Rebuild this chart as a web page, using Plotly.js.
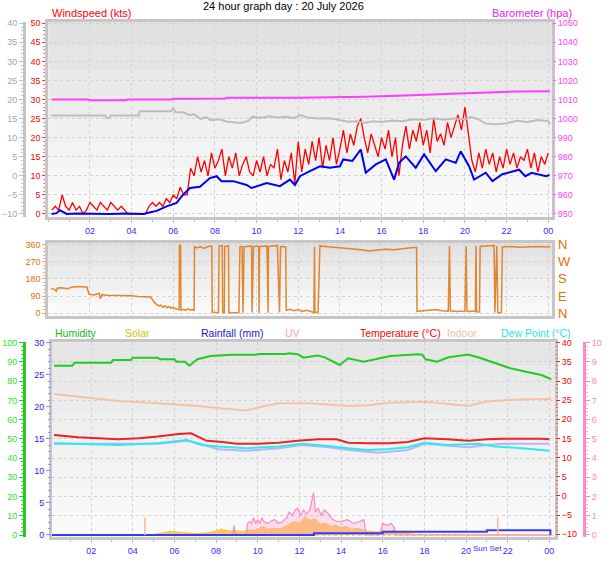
<!DOCTYPE html>
<html><head><meta charset="utf-8">
<script src="https://cdn.plot.ly/plotly-3.0.1.min.js"></script>
<style>html,body{margin:0;padding:0;background:#fff}#chart{width:608px;height:561px}</style>
</head><body><div id="chart"></div>
<script>
// ---------- tick labels ----------
const hourTicks = [2,4,6,8,10,12,14,16,18,20,22,24];
const hourLabels = ['02','04','06','08','10','12','14','16','18','20','22','00'];
const dirTicks = [0,90,180,270,360];
const dirLetters = ['N','E','S','W','N'];
const sunEventTimes = [4.58, 21.52];

// ---------- top panel: wind gust (kts), 10-minute samples from 00:10 ----------
const gustValues = [
 1,2,1,5,2,1,  3,1,2,0,1,3,  2,1,3,2,1,3,  2,1,2,1,0,0,
 0,0,0,0,2,3,  2,3,2,4,3,5,  4,7,5,5,12,10, 15,11,14,10,16,12,
 14,17,10,15,12,16, 10,13,15,11,10,14, 11,15,10,13,12,17, 9,14,11,16,8,19,
 11,17,13,19,14,20, 12,18,14,20,13,17, 22,16,21,18,23,25, 20,16,21,18,15,20,
 17,22,15,20,10,18, 23,17,22,19,24,18, 22,16,25,19,21,18, 24,20,23,26,22,28,
 21,14,11,16,12,17, 13,16,11,15,12,17, 13,16,12,15,14,17, 12,16,11,15,13,16
];
const gustTimes = gustValues.map((v,i)=>(i+1)/6);

// average wind speed (kts)
const avgTimes = [0.16,0.4,0.56,0.75,0.88,1.36,2.0,2.96,3.76,4.56, 4.8,5.2,5.68,6.16,6.4,6.8,7.28,7.76,8.08,8.32,
 8.88,9.52,9.76,10.48,11.12,11.6,11.84,12.08,12.56,13.04, 13.52,14.0,14.16,14.6,15.0,15.24,15.72,16.2,16.6,16.84,
 17.16,17.64,18.04,18.6,19.08,19.56,19.8,20.2,20.44,21.0, 21.32,21.8,22.6,22.9,23.2,23.9,24.06];
const avgValues = [0,0.2,1.0,0.3,0,0.1,0,0,0.1,0, 0.3,0.8,2.0,2.9,4.6,6.8,7.1,9.4,9.9,8.6,
 8.6,7.6,6.8,8.1,7.3,9.0,7.6,9.9,11.2,12.5, 12.1,12.5,14.3,13.9,16.9,10.8,13.0,14.3,9.0,13.4,
 15.1,12.1,15.6,11.2,14.3,13.4,16.4,12.5,9.0,10.8, 8.6,10.4,11.6,9.9,10.8,9.9,10.2];

// barometer (hpa)
const baroTimes = [0.16,1.9,2.0,3.7,3.8,5.9,6.0,6.3,6.6,8.5,8.6,12.0,13.5,15.2,16.8,18.4,20.4,22.5,24.08];
const baroValues = [1010.0,1010.0,1009.6,1009.6,1010.0,1010.0,1010.4,1010.3,1010.4,1010.5,1010.9,1010.9,1011.1,1011.5,1012.0,1012.8,1013.4,1014.2,1014.3];

// grey series (left grey axis)
const greyTimes = [0.16,2.75,2.8,2.95,3.0,4.35,4.4,5.9,6.0,6.1, 6.5,6.8,7.0,7.3,7.6,7.8,8.2,8.6,9.0,9.3,
 9.6,9.8,10.2,10.6,11.0,11.4,11.8,12.1,12.5,13.0, 13.5,14.0,14.4,14.8,15.2,15.6,16.0,16.5,17.0,17.5,
 18.0,18.5,19.0,19.5,20.0,20.3,20.6,21.0,21.5,22.0, 22.5,23.0,23.5,24.0,24.08];
const greyValues = [15.8,15.8,15.1,15.2,15.8,15.8,16.9,16.9,17.8,16.7, 16.6,15.9,16.2,14.9,15.3,14.6,14.8,14.2,14.0,13.9,
 14.4,15.5,15.2,15.6,15.3,15.5,15.1,15.9,15.2,15.0, 15.1,14.6,14.2,14.3,13.9,14.3,14.1,14.5,14.3,14.8,
 14.6,15.1,14.7,15.0,14.8,15.4,14.9,13.7,13.5,13.8, 14.4,14.1,14.6,14.3,13.6];

// ---------- middle panel: wind direction (deg) ----------
const dirTimes = [
 0.13,0.3,0.38,0.45,0.6,0.8,0.95,1.1,1.3,1.6,
 1.85,1.96,2.1,2.2,2.35,2.45,2.5,2.58,2.8,3.2,
 3.6,4.0,4.3,4.6,4.9,5.0,5.1,5.2,5.3,5.4,
 5.5,5.6,5.7,5.8,5.9,6.0,6.1,6.2,6.28,6.3,
 6.35,6.37,6.5,6.6,6.7,6.8,6.9,7.0,7.02,7.15,
 7.3,7.45,7.6,7.75,7.85,7.87,8.0,8.17,8.2,8.35,
 8.37,8.45,8.47,8.65,8.67,8.8,9.15,9.2,9.3,9.35,
 9.4,9.6,9.76,9.78,9.85,10.0,10.1,10.12,10.14,10.5,
 10.55,10.57,11.0,11.1,11.15,11.4,11.42,11.6,11.8,12.0,
 12.2,12.4,12.6,12.75,12.78,12.8,12.95,13.04,13.3,13.6,
 14.0,14.5,15.0,15.4,15.8,16.2,16.6,17.0,17.4,17.68,
 17.7,18.0,18.3,18.6,18.9,19.2,19.26,19.3,19.6,20.0,
 20.06,20.1,20.5,20.53,20.56,20.7,20.73,21.0,21.4,21.44,
 21.53,21.58,21.75,21.8,22.2,22.6,23.0,23.5,24.0,24.1];
const dirValues = [
 129,125,116,132,134,131,128,136,139,139,
 138,99,97,95,102,104,76,97,94,94,
 93,92,88,86,85,72,55,46,38,42,
 30,38,28,35,25,30,22,20,18,358,
 355,15,20,14,22,16,18,15,351,345,
 352,342,350,355,353,5,3,4,355,357,
 5,3,352,355,4,2,3,350,352,2,
 350,352,355,3,350,355,350,2,352,355,
 2,352,357,3,352,350,15,20,12,18,
 8,15,6,3,350,5,2,355,352,348,
 345,340,335,328,334,338,335,342,345,348,
 8,12,15,18,12,10,355,12,8,10,
 355,8,10,355,6,5,352,355,357,3,
 355,2,3,350,352,348,350,352,350,350];

// ---------- bottom panel ----------
const humTimes = [0.22,1.1,1.2,2.95,3.05,3.9,4.0,5.2,5.3,6.0, 6.1,6.5,6.72,7.1,7.74,8.77,9.88,10.07,11.37,11.46,
 11.92,12.2,12.85,13.22,13.93,14.34,15.08,15.64,16.38,17.68, 17.9,18.05,18.61,19.16,20.1,20.65,21.4,22.13,22.88,23.62, 24.09];
const humValues = [88.0,88.0,89.6,89.6,91.0,91.0,92.2,92.2,91.4,91.4, 90.1,90.1,88.0,91.4,93.1,93.8,93.8,94.1,94.1,94.5,
 94.0,92.2,93.4,92.4,88.4,91.9,90.1,91.4,93.1,94.0, 93.8,91.4,90.1,92.4,93.8,92.2,89.4,86.7,84.9,83.2, 81.0];

const indoorTimes = [0.22,1.38,3.3,5.23,7.15,8.3,9.46,10.03,11.0,12.5,13.8,14.34,15.3,16.3,18.05,19.4,20.1,20.9,21.85,23.25,24.09];
const indoorValues = [26.6,25.9,24.8,24.2,23.5,22.8,22.3,23.1,24.2,24.2,23.6,23.5,23.7,24.3,24.6,23.9,23.5,24.6,25.0,25.3,25.3];

const tempTimes = [0.22,1.36,3.3,4.3,5.2,6.2,6.8,7.15,7.55,8.3, 9.0,10.0,11.0,11.9,12.9,13.78,14.34,15.3,16.3,17.2, 18.0,19.1,20.1,21.0,21.8,23.6,24.0];
const tempValues = [15.9,15.3,14.8,15.05,15.5,16.2,16.35,15.5,14.4,14.1, 13.6,13.6,13.9,14.4,14.8,14.8,13.9,13.75,13.75,14.1, 15.05,14.8,14.4,14.8,14.95,14.95,14.8];

const dewTimes = [0.22,3.3,5.2,6.6,7.3,8.1,9.46,11.0,12.1,13.4,14.34,15.3,16.3,17.2,18.0,19.1,20.6,21.4,22.7,24.0];
const dewValues = [13.75,13.3,13.75,14.6,13.3,12.9,12.45,12.9,13.6,13.05,12.45,12.0,12.25,12.7,13.9,13.3,13.6,12.9,12.45,11.8];

const indoorDewTimes = [0.22,5.2,6.6,7.15,8.1,9.46,11.0,12.1,13.4,14.34,15.8,17.2,18.0,19.1,20.1,21.0,21.8,24.0];
const indoorDewValues = [13.6,13.6,14.4,13.75,12.2,11.8,12.45,13.3,12.7,12.0,11.3,12.0,13.6,13.05,12.7,13.3,13.6,13.6];

const rainTimes = [0.12,12.7,16.0,21.0,24.05];
const rainValues = [0,0.25,0.5,0.75,0];

const solarTimes = [0.12,5.0,5.25,5.5,5.75,6.0,6.25,6.5,6.75,7.0,7.25,7.5,7.75,8.0,8.25,8.5,8.75,9.0,9.25,9.5,9.75,
 10.0,10.25,10.5,10.75,11.0,11.25,11.5,11.75,12.0,12.25,12.5,12.75,13.0,13.25,13.5,13.75,14.0,14.25,14.5,14.75,
 15.0,15.25,15.5,15.75,16.0,16.25,16.5,16.75,17.0,17.25,17.5,18,19,20,21,24.05];
const solarValues = [0,3,8,15,18,17,14,12,10,8, 9,10,14,22,30,24,20,22,18,26, 24,30,45,28,35,32,40,55,70,60,
 92,75,85,55,60,45,50,38,42,30, 35,28,20,18,15,22,12,25,8,10, 6,5,3,2,2,0,0];

const uvTimes = [0.12,8.8,8.86,8.92,9.45,9.51,9.6,9.7,9.8,9.9, 10.0,10.1,10.2,10.3,10.45,10.6,10.8,11.0,11.2,11.4,
 11.5,11.65,11.8,11.92,12.05,12.2,12.35,12.5,12.58,12.68, 12.77,12.9,13.05,13.2,13.4,13.6,13.8,14.0,14.3,14.6,
 14.9,15.1,15.2,15.85,16.0,16.2,16.4,16.55,16.65,24.05];
const uvValues = [0,0,0.5,0,0,0.6,0.7,0.6,0.9,0.6, 0.8,0.6,0.9,0.7,0.6,0.7,0.8,0.6,0.7,0.9,
 1.2,1.0,1.3,1.4,1.0,1.3,1.1,1.3,1.8,2.2, 1.2,1.4,1.0,1.3,1.1,0.8,0.7,0.7,0.8,0.6,
 0.7,0.8,0,0,0.6,0.5,0.6,0.4,0,0];

// ---------- styling ----------
const FONT = 'Liberation Sans, Arial, sans-serif';
const BORDER = '#C6C6C6';
const GRID = '#D2D2D2';
const TOPX = [0.0794, 0.9079];
const BOTX = [0.0855, 0.9128];
const TOPY = [0.6132, 0.9613];
const MIDY = [0.4367, 0.5674];
const BOTY = [0.0433, 0.3898];

function bands(xd, yd, g0, g1, n){
  const out=[];
  for(let i=0;i<n;i++){
    const g=Math.round(g0+(g1-g0)*i/(n-1));
    const yt=yd[1]-(yd[1]-yd[0])*i/n, yb=yd[1]-(yd[1]-yd[0])*(i+1)/n;
    out.push({type:'rect',xref:'paper',yref:'paper',x0:xd[0],x1:xd[1],y0:yb,y1:yt,
      fillcolor:`rgb(${g},${g},${g})`,line:{width:0},layer:'below'});
  }
  return out;
}

const traces = [
  {x:greyTimes,y:greyValues,xaxis:'x',yaxis:'y2',mode:'lines',line:{color:'#BDBDBD',width:2}},
  {x:baroTimes,y:baroValues,xaxis:'x',yaxis:'y3',mode:'lines',line:{color:'#FF3CFF',width:2}},
  {x:gustTimes,y:gustValues,xaxis:'x',yaxis:'y',mode:'lines',line:{color:'#FF0000',width:1.3}},
  {x:avgTimes,y:avgValues,xaxis:'x',yaxis:'y',mode:'lines',line:{color:'#0000F0',width:2}},
  {x:dirTimes,y:dirValues,xaxis:'x2',yaxis:'y4',mode:'lines',line:{color:'#E07A1A',width:1.5},opacity:0.9},
  {x:solarTimes,y:solarValues,xaxis:'x3',yaxis:'y5',mode:'lines',fill:'tozeroy',fillcolor:'rgba(255,180,50,0.75)',line:{color:'#F8C850',width:1.2}},
  {x:uvTimes,y:uvValues,xaxis:'x3',yaxis:'y6',mode:'lines',fill:'tozeroy',fillcolor:'rgba(255,160,210,0.3)',line:{color:'#FF88C4',width:1.2}},
  {x:rainTimes,y:rainValues,xaxis:'x3',yaxis:'y7',mode:'lines',line:{color:'#3A3AF0',width:2,shape:'hv'}},
  {x:humTimes,y:humValues,xaxis:'x3',yaxis:'y8',mode:'lines',line:{color:'#22CC22',width:2}},
  {x:indoorDewTimes,y:indoorDewValues,xaxis:'x3',yaxis:'y9',mode:'lines',line:{color:'#B4B4FF',width:2}},
  {x:dewTimes,y:dewValues,xaxis:'x3',yaxis:'y9',mode:'lines',line:{color:'#30EAEA',width:2}},
  {x:indoorTimes,y:indoorValues,xaxis:'x3',yaxis:'y9',mode:'lines',line:{color:'#F6C2A4',width:2}},
  {x:tempTimes,y:tempValues,xaxis:'x3',yaxis:'y9',mode:'lines',line:{color:'#EE2222',width:2}}
];
sunEventTimes.forEach(t=>traces.push({x:[t,t],y:[0,9],xaxis:'x3',yaxis:'y8',mode:'lines',line:{color:'#F5BB9C',width:1.5}}));
traces.forEach(t=>{t.showlegend=false;t.hoverinfo='skip';});

const xBase = {tickvals:hourTicks,ticktext:hourLabels,tickfont:{family:FONT,size:9,color:'#3030FF'},
  showgrid:true,gridcolor:GRID,griddash:'dot',gridwidth:1,showline:true,mirror:true,linecolor:BORDER,linewidth:3,
  ticks:'outside',ticklen:3,tickcolor:'#BBBBBB',zeroline:false,fixedrange:true,
  minor:{tickmode:'linear',tick0:0,dtick:1,ticks:'outside',ticklen:2,tickcolor:'#BBBBBB',showgrid:false}};

const LEG_Y = 0.4064;
const layout = {
  width:608,height:561,margin:{l:0,r:0,t:0,b:0},paper_bgcolor:'#FFFFFF',plot_bgcolor:'rgba(0,0,0,0)',
  font:{family:FONT,size:9},showlegend:false,
  xaxis:Object.assign({},xBase,{domain:TOPX,range:[0,24.18],anchor:'y'}),
  yaxis:{domain:TOPY,anchor:'x',range:[-0.8,50.4],tickmode:'linear',tick0:0,dtick:5,tickfont:{family:FONT,size:9,color:'#FF0000'},
    ticks:'outside',ticklen:3,tickcolor:'#FF3030',showgrid:true,gridcolor:GRID,griddash:'dot',showline:true,mirror:true,
    linecolor:BORDER,linewidth:3,zeroline:false,
    minor:{tickmode:'linear',tick0:0,dtick:1,ticks:'outside',ticklen:2,tickcolor:'#FF8080',showgrid:false}},
  yaxis2:{overlaying:'y',anchor:'free',position:0.0395,side:'left',range:[-10.8,40.4],tickmode:'linear',tick0:0,dtick:5,
    tickfont:{family:FONT,size:9,color:'#A6A6A6'},ticks:'outside',ticklen:4,tickcolor:'#C0C0C0',showgrid:false,
    showline:true,linecolor:'#C4C4C4',linewidth:3,zeroline:false,
    minor:{tickmode:'linear',tick0:0,dtick:1,ticks:'outside',ticklen:2,tickcolor:'#C8C8C8'}},
  yaxis3:{overlaying:'y',anchor:'x',side:'right',range:[948.4,1050.8],tickmode:'linear',tick0:950,dtick:10,
    tickfont:{family:FONT,size:9,color:'#FF40FF'},ticks:'outside',ticklen:3,tickcolor:'#FF60FF',showgrid:false,zeroline:false,
    minor:{tickmode:'linear',tick0:950,dtick:2,ticks:'outside',ticklen:2,tickcolor:'#FF90FF'}},
  xaxis2:Object.assign({},xBase,{domain:TOPX,range:[0,24.18],anchor:'y4',showticklabels:false,ticks:'',minor:{ticks:''}}),
  yaxis4:{domain:MIDY,anchor:'x2',range:[-15.9,372.2],tickvals:dirTicks,tickfont:{family:FONT,size:9,color:'#E07000'},
    ticks:'outside',ticklen:3,tickcolor:'#F0A060',showgrid:true,gridcolor:GRID,griddash:'dot',showline:true,mirror:true,
    linecolor:BORDER,linewidth:3,zeroline:false,
    minor:{tickmode:'linear',tick0:0,dtick:18,ticks:'outside',ticklen:2,tickcolor:'#F0B080',showgrid:false}},
  xaxis3:Object.assign({},xBase,{domain:BOTX,range:[0.12,24.27],anchor:'y5'}),
  yaxis5:{domain:BOTY,anchor:'x3',range:[-8.8,1002],showticklabels:false,ticks:'',showgrid:false,showline:true,mirror:true,
    linecolor:BORDER,linewidth:3,zeroline:false},
  yaxis6:{overlaying:'y5',anchor:'free',position:0.9605,side:'right',range:[-0.09,10.02],tickmode:'linear',tick0:0,dtick:1,
    tickfont:{family:FONT,size:9,color:'#FF88BB'},ticks:'outside',ticklen:4,tickcolor:'#FF88BB',showgrid:false,
    showline:true,linecolor:'#FF8CC0',linewidth:3,zeroline:false,
    minor:{tickmode:'linear',tick0:0,dtick:0.2,ticks:'outside',ticklen:2,tickcolor:'#FFB0D0'}},
  yaxis7:{overlaying:'y5',anchor:'x3',side:'left',range:[-0.27,30.06],tickmode:'linear',tick0:0,dtick:5,
    tickfont:{family:FONT,size:9,color:'#2828F0'},ticks:'outside',ticklen:5,tickcolor:'#8888FF',showgrid:false,zeroline:false,
    minor:{tickmode:'linear',tick0:0,dtick:1,ticks:'outside',ticklen:3,tickcolor:'#9898FF'}},
  yaxis8:{overlaying:'y5',anchor:'free',position:0.0395,side:'left',range:[-0.88,100.2],tickmode:'linear',tick0:0,dtick:10,
    tickfont:{family:FONT,size:9,color:'#33DD33'},ticks:'outside',ticklen:4,tickcolor:'#22CC22',showgrid:true,gridcolor:GRID,
    griddash:'dot',showline:true,linecolor:'#22CC22',linewidth:3,zeroline:false,
    minor:{tickmode:'linear',tick0:0,dtick:2,ticks:'outside',ticklen:2,tickcolor:'#44DD44',showgrid:false}},
  yaxis9:{overlaying:'y5',anchor:'x3',side:'right',range:[-10.63,40.1],tickmode:'linear',tick0:-10,dtick:5,
    tickfont:{family:FONT,size:9,color:'#FF0000'},ticks:'outside',ticklen:4,tickcolor:'#FF2020',showgrid:false,zeroline:false,
    minor:{tickmode:'linear',tick0:-10,dtick:1,ticks:'outside',ticklen:2,tickcolor:'#FF6060'}},
  shapes:[].concat(bands(TOPX,TOPY,226,250,8),bands(TOPX,MIDY,226,250,6),bands(BOTX,BOTY,230,250,8)),
  annotations:[
    {text:'24 hour graph day : 20 July 2026',x:0.4663,y:0.9895,xref:'paper',yref:'paper',xanchor:'center',yanchor:'middle',showarrow:false,font:{family:FONT,size:11,color:'#000000'}},
    {text:'Windspeed (kts)',x:50/608,y:0.9775,xref:'paper',yref:'paper',xanchor:'left',yanchor:'middle',showarrow:false,font:{family:FONT,size:11,color:'#FF0000'}},
    {text:'Barometer (hpa)',x:574/608,y:0.9775,xref:'paper',yref:'paper',xanchor:'right',yanchor:'middle',showarrow:false,font:{family:FONT,size:11,color:'#EE22EE'}},
    {text:'Humidity',x:76/608,y:LEG_Y,xref:'paper',yref:'paper',xanchor:'center',yanchor:'middle',showarrow:false,font:{family:FONT,size:10.5,color:'#11BB11'}},
    {text:'Solar',x:137/608,y:LEG_Y,xref:'paper',yref:'paper',xanchor:'center',yanchor:'middle',showarrow:false,font:{family:FONT,size:10.5,color:'#C8C800'}},
    {text:'Rainfall (mm)',x:232/608,y:LEG_Y,xref:'paper',yref:'paper',xanchor:'center',yanchor:'middle',showarrow:false,font:{family:FONT,size:10.5,color:'#1818D8'}},
    {text:'UV',x:292/608,y:LEG_Y,xref:'paper',yref:'paper',xanchor:'center',yanchor:'middle',showarrow:false,font:{family:FONT,size:10.5,color:'#FF99CC'}},
    {text:'Temperature (°C)',x:400/608,y:LEG_Y,xref:'paper',yref:'paper',xanchor:'center',yanchor:'middle',showarrow:false,font:{family:FONT,size:10.5,color:'#FF0000'}},
    {text:'Indoor',x:462/608,y:LEG_Y,xref:'paper',yref:'paper',xanchor:'center',yanchor:'middle',showarrow:false,font:{family:FONT,size:10.5,color:'#F4BC9C'}},
    {text:'Dew Point (°C)',x:536/608,y:LEG_Y,xref:'paper',yref:'paper',xanchor:'center',yanchor:'middle',showarrow:false,font:{family:FONT,size:10.5,color:'#22E6E6'}},
    {text:'Sun Set',x:487/608,y:(561-548)/561,xref:'paper',yref:'paper',xanchor:'center',yanchor:'middle',showarrow:false,font:{family:FONT,size:8,color:'#3030FF'}}
  ].concat(dirTicks.map((v,i)=>({text:dirLetters[i],x:556/608,y:v,xref:'paper',yref:'y4',xanchor:'left',yanchor:'middle',showarrow:false,font:{family:FONT,size:13,color:'#E07000'}})))
};

Plotly.newPlot('chart',traces,layout,{staticPlot:true,displayModeBar:false});
</script></body></html>
